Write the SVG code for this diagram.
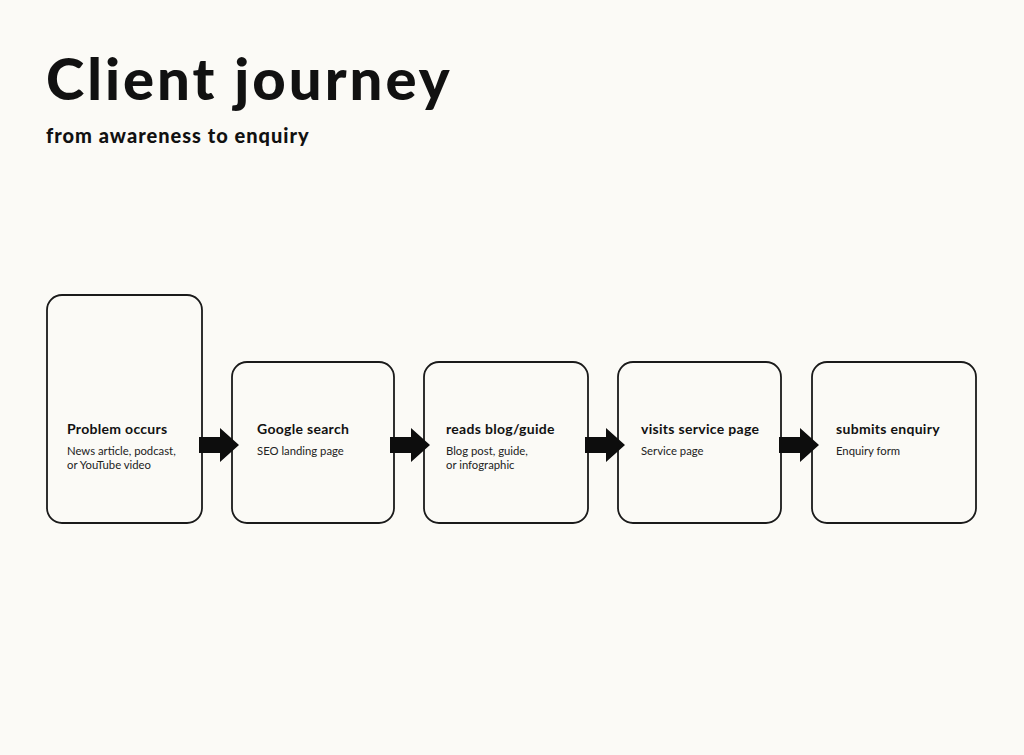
<svg xmlns="http://www.w3.org/2000/svg" width="1024" height="755" viewBox="0 0 1024 755">
<style>
.box{fill:#fbfaf6;stroke:#1a1a1a;stroke-width:1.8}
.t{font-family:Lato,"Liberation Sans",sans-serif;font-weight:700;font-size:14px;letter-spacing:0.3px;fill:#111}
.s{font-family:Lato,"Liberation Sans",sans-serif;font-size:11.3px;fill:#222}
.arr{fill:#0d0d0d}
</style>
<defs><path id="a" d="M0 9H21V0L40 17L21 34V25H0Z"/></defs>
<rect width="1024" height="755" fill="#fbfaf6"/>
<text x="46" y="100" font-family="Lato,'Liberation Sans',sans-serif" font-weight="900" font-size="58" letter-spacing="3" fill="#111">Client journey</text>
<text x="46" y="143" font-family="Lato,'Liberation Sans',sans-serif" font-weight="900" font-size="20" letter-spacing="1" fill="#111">from awareness to enquiry</text>
<g id="n1"><rect class="box" x="47" y="295" width="155" height="228" rx="15"/><text class="t" x="67" y="434">Problem occurs</text><text class="s" x="67" y="455">News article, podcast,</text><text class="s" x="67" y="469">or YouTube video</text></g>
<g id="n2"><rect class="box" x="232" y="362" width="162" height="161" rx="15"/><text class="t" x="257" y="434">Google search</text><text class="s" x="257" y="455">SEO landing page</text></g>
<g id="n3"><rect class="box" x="424" y="362" width="164" height="161" rx="15"/><text class="t" x="446" y="434">reads blog/guide</text><text class="s" x="446" y="455">Blog post, guide,</text><text class="s" x="446" y="469">or infographic</text></g>
<g id="n4"><rect class="box" x="618" y="362" width="163" height="161" rx="15"/><text class="t" x="641" y="434">visits service page</text><text class="s" x="641" y="455">Service page</text></g>
<g id="n5"><rect class="box" x="812" y="362" width="164" height="161" rx="15"/><text class="t" x="836" y="434">submits enquiry</text><text class="s" x="836" y="455">Enquiry form</text></g>
<g id="connectors" class="arr">
<use href="#a" x="199" y="428"/><use href="#a" x="390" y="428"/><use href="#a" x="585" y="428"/><use href="#a" x="779" y="428"/>
</g>
</svg>
